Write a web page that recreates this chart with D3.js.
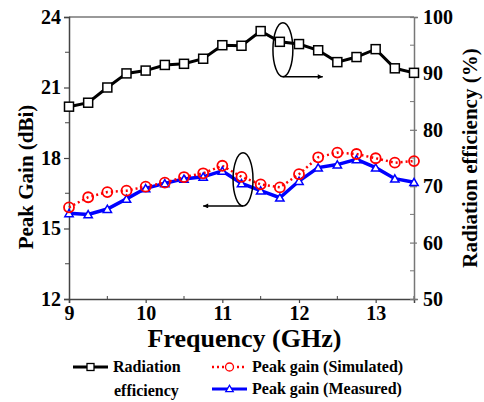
<!DOCTYPE html>
<html>
<head>
<meta charset="utf-8">
<script src="https://cdn.jsdelivr.net/npm/d3@7"></script>
<style>
  body { margin: 0; background: #fff; }
</style>
</head>
<body>
<div id="chart"></div>
<script>
// frequency points (GHz)
var freq = [9, 9.25, 9.5, 9.75, 10, 10.25, 10.5, 10.75, 11, 11.25, 11.5, 11.75, 12, 12.25, 12.5, 12.75, 13, 13.25, 13.5];
// radiation efficiency (%), right axis
var efficiency = [84.1, 84.8, 87.5, 90.0, 90.5, 91.5, 91.7, 92.6, 95.0, 94.9, 97.5, 95.6, 95.2, 94.1, 92.0, 92.9, 94.3, 90.9, 90.1];
// peak gain (dBi), left axis
var gainSim = [15.90, 16.33, 16.55, 16.61, 16.78, 16.95, 17.19, 17.35, 17.67, 17.20, 16.88, 16.75, 17.31, 18.03, 18.23, 18.17, 17.99, 17.80, 17.87];
var gainMeas = [15.65, 15.60, 15.83, 16.26, 16.71, 16.92, 17.11, 17.20, 17.45, 16.92, 16.61, 16.31, 17.02, 17.59, 17.72, 17.94, 17.59, 17.12, 16.97];

var xTicks = [9, 10, 11, 12, 13];
var yLeftTicks = [12, 15, 18, 21, 24];
var yRightTicks = [50, 60, 70, 80, 90, 100];

// ellipse + arrow annotations, in data units (freq, gain)
var notes = [
  {cx: 11.79, cy: 22.61, rx: 0.13, ry: 1.15, toX: 12.31},
  {cx: 11.27, cy: 17.09, rx: 0.13, ry: 1.13, toX: 10.75}
];

var legendItems = [
  {label: ["Radiation", "efficiency"], color: "#000", dash: null, width: 3, symbol: "square"},
  {label: ["Peak gain (Simulated)"], color: "#ff0000", dash: "2,3", width: 2.5, symbol: "circle"},
  {label: ["Peak gain (Measured)"], color: "#0000ff", dash: null, width: 3, symbol: "triangle"}
];

var FONT = "'Liberation Serif'";

var width = 484, height = 402;
var margin = {top: 17, right: 70, bottom: 103, left: 69};

var svg = d3.select("#chart").append("svg")
    .attr("width", width)
    .attr("height", height);

var x = d3.scaleLinear().domain([9, 13.5]).range([margin.left, width - margin.right]);
var yL = d3.scaleLinear().domain([12, 24]).range([height - margin.bottom, margin.top]);
var yR = d3.scaleLinear().domain([50, 100]).range([height - margin.bottom, margin.top]);

var x0 = x.range()[0], x1 = x.range()[1];
var y0 = yL.range()[0], y1 = yL.range()[1];

// frame: top line in grey
svg.append("line").attr("x1", x0).attr("x2", x1).attr("y1", y1).attr("y2", y1)
    .style("stroke", "#777").style("stroke-width", 1.5);

// minor ticks
var xMinor = [9.5, 10.5, 11.5, 12.5, 13.5];
var yLMinor = [13.5, 16.5, 19.5, 22.5];
var yRMinor = [55, 65, 75, 85, 95];

svg.selectAll(".xminor").data(xMinor).enter().append("line")
    .attr("x1", d => x(d)).attr("x2", d => x(d))
    .attr("y1", y0).attr("y2", y0 - 3)
    .style("stroke", "#444").style("stroke-width", 1);
svg.selectAll(".ylminor").data(yLMinor).enter().append("line")
    .attr("x1", x0).attr("x2", x0 - 4)
    .attr("y1", d => yL(d)).attr("y2", d => yL(d))
    .style("stroke", "#444").style("stroke-width", 1);
svg.selectAll(".yrminor").data(yRMinor).enter().append("line")
    .attr("x1", x1 - 4).attr("x2", x1)
    .attr("y1", d => yR(d)).attr("y2", d => yR(d))
    .style("stroke", "#777").style("stroke-width", 1);

// axes
var gx = svg.append("g")
    .attr("transform", "translate(0," + y0 + ")")
    .call(d3.axisBottom(x).tickValues(xTicks).tickSize(4).tickPadding(3).tickFormat(d3.format("d")));
var gl = svg.append("g")
    .attr("transform", "translate(" + x0 + ",0)")
    .call(d3.axisLeft(yL).tickValues(yLeftTicks).tickSize(5).tickPadding(3));
var gr = svg.append("g")
    .attr("transform", "translate(" + x1 + ",0)")
    .call(d3.axisRight(yR).tickValues(yRightTicks).tickSize(4).tickPadding(5));

[gx, gl].forEach(function (g) {
  g.select(".domain").style("stroke", "#444").style("stroke-width", 1.5);
  g.selectAll(".tick line").style("stroke", "#444").style("stroke-width", 1.2);
});
gr.select(".domain").style("stroke", "#777").style("stroke-width", 1.5);
gr.selectAll(".tick line").attr("x1", -4).attr("x2", 3).style("stroke", "#777").style("stroke-width", 1.2);

[gx, gl, gr].forEach(function (g) {
  g.attr("font-family", null).attr("font-size", null);
  g.selectAll(".tick text")
      .style("font-size", "20px")
      .style("fill", "#000");
});
gx.selectAll(".tick text").attr("dy", "0.72em");

// axis titles
svg.append("text")
    .attr("x", (x0 + x1) / 2 + 3)
    .attr("y", 347)
    .style("text-anchor", "middle")
    .style("font-size", "26px")
    .text("Frequency (GHz)");

svg.append("text")
    .attr("transform", "translate(33," + ((y0 + y1) / 2 + 19) + ") rotate(-90)")
    .style("text-anchor", "middle")
    .style("font-size", "21px")
    .text("Peak Gain (dBi)");

svg.append("text")
    .attr("transform", "translate(477," + ((y0 + y1) / 2) + ") rotate(-90)")
    .style("text-anchor", "middle")
    .style("font-size", "21px")
    .text("Radiation efficiency (%)");

// lines
var effLine = d3.line().x((d, i) => x(freq[i])).y(d => yR(d));
var gainLine = d3.line().x((d, i) => x(freq[i])).y(d => yL(d));

svg.append("path").datum(efficiency)
    .attr("d", effLine)
    .style("fill", "none").style("stroke", "#000").style("stroke-width", 3);

svg.append("path").datum(gainMeas)
    .attr("d", gainLine)
    .style("fill", "none").style("stroke", "#0000ff").style("stroke-width", 3.5);

svg.append("path").datum(gainSim)
    .attr("d", gainLine)
    .style("fill", "none").style("stroke", "#ff0000").style("stroke-width", 2.5)
    .style("stroke-dasharray", "2,3");

// markers
svg.selectAll(".sq").data(efficiency).enter().append("rect")
    .attr("x", (d, i) => x(freq[i]) - 4.5)
    .attr("y", d => yR(d) - 4.5)
    .attr("width", 9).attr("height", 9)
    .style("fill", "#fff").style("stroke", "#000").style("stroke-width", 1.5);

svg.selectAll(".tri").data(gainMeas).enter().append("path")
    .attr("d", d3.symbol().type(d3.symbolTriangle).size(30))
    .attr("transform", (d, i) => "translate(" + x(freq[i]) + "," + (yL(d) + 1) + ")")
    .style("fill", "#fff").style("stroke", "#0000ff").style("stroke-width", 1.5);

svg.selectAll(".circ").data(gainSim).enter().append("circle")
    .attr("cx", (d, i) => x(freq[i]))
    .attr("cy", d => yL(d))
    .attr("r", 5)
    .style("fill", "none").style("stroke", "#ff0000").style("stroke-width", 1.8);

// annotations
svg.append("defs").append("marker")
    .attr("id", "arrow")
    .attr("viewBox", "0 0 10 10")
    .attr("refX", 10).attr("refY", 5)
    .attr("markerWidth", 11).attr("markerHeight", 5)
    .attr("markerUnits", "userSpaceOnUse")
    .attr("orient", "auto")
  .append("path")
    .attr("d", "M0,0 L10,5 L0,10 Z")
    .style("fill", "#000");

notes.forEach(function (n) {
  var cx = x(n.cx), cy = yL(n.cy);
  var rx = x(n.cx + n.rx) - cx, ry = yL(n.cy) - yL(n.cy + n.ry);
  svg.append("ellipse")
      .attr("cx", cx).attr("cy", cy).attr("rx", rx).attr("ry", ry)
      .style("fill", "none").style("stroke", "#000").style("stroke-width", 1.5);
  svg.append("line")
      .attr("x1", cx).attr("y1", cy + ry)
      .attr("x2", x(n.toX)).attr("y2", cy + ry)
      .attr("marker-end", "url(#arrow)")
      .style("stroke", "#000").style("stroke-width", 1.5);
});

// legend
var legendPos = [{x: 73, y: 367}, {x: 212, y: 367}, {x: 212, y: 389}];
legendItems.forEach(function (item, i) {
  var p = legendPos[i];
  var g = svg.append("g").attr("transform", "translate(" + p.x + "," + p.y + ")");
  g.append("line")
      .attr("x1", 0).attr("x2", 35).attr("y1", 0).attr("y2", 0)
      .style("stroke", item.color).style("stroke-width", item.width)
      .style("stroke-dasharray", item.dash);
  if (item.symbol == "square") {
    g.append("rect").attr("x", 14).attr("y", -3.5).attr("width", 7).attr("height", 7)
        .style("fill", "#fff").style("stroke", item.color).style("stroke-width", 1.3);
  } else if (item.symbol == "circle") {
    g.append("circle").attr("cx", 17.5).attr("cy", 0).attr("r", 4)
        .style("fill", "#fff").style("stroke", item.color).style("stroke-width", 1.3);
  } else {
    g.append("path").attr("d", d3.symbol().type(d3.symbolTriangle).size(24))
        .attr("transform", "translate(17.5,0.5)")
        .style("fill", "#fff").style("stroke", item.color).style("stroke-width", 1.3);
  }
  item.label.forEach(function (t, j) {
    g.append("text")
        .attr("x", 40 + (j > 0 ? 1 : 0))
        .attr("y", 5 + j * 24)
        .style("font-size", "16px")
        .text(t);
  });
});

// all text in bold serif
svg.selectAll("text")
    .style("font-family", FONT)
    .style("font-weight", "bold");
</script>
</body>
</html>
